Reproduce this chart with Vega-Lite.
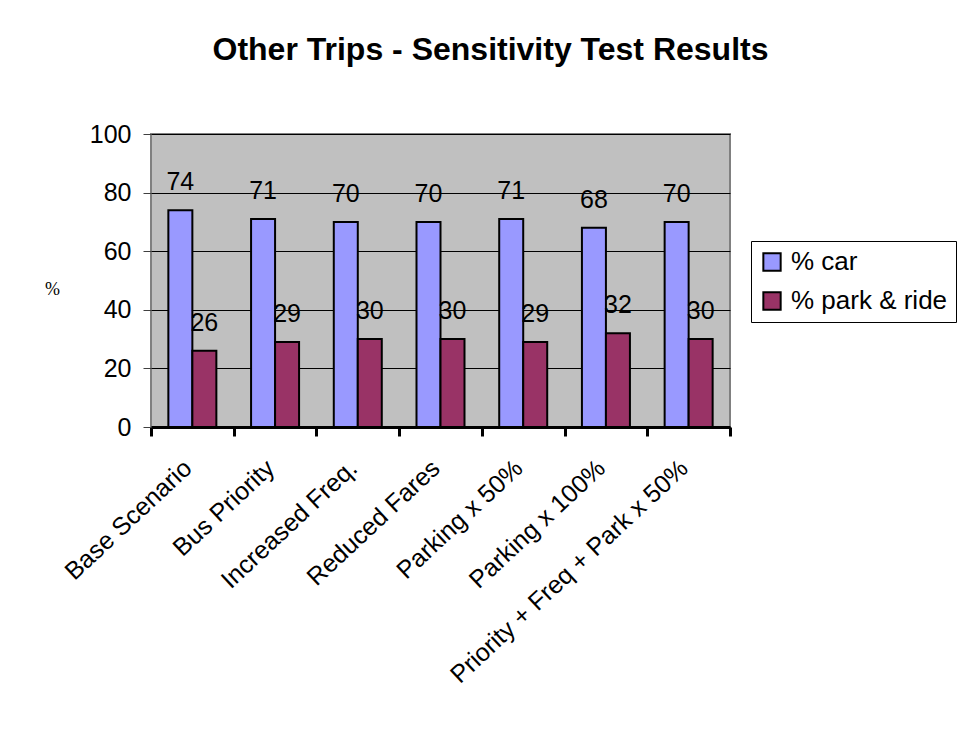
{
  "$schema": "https://vega.github.io/schema/vega-lite/v6.json",
  "autosize": {"type": "none"},
  "width": 579,
  "height": 293,
  "padding": {"left": 151, "top": 134, "right": 228, "bottom": 311},
  "background": "white",
  "title": {
    "text": "Other Trips - Sensitivity Test Results",
    "font": "Liberation Sans",
    "fontSize": 32,
    "fontWeight": "bold",
    "color": "black",
    "anchor": "middle",
    "dx": 50,
    "offset": 55
  },
  "data": {
    "values": [
      {"scenario": "Base Scenario", "mode": "% car", "pct": 74},
      {"scenario": "Base Scenario", "mode": "% park & ride", "pct": 26},
      {"scenario": "Bus Priority", "mode": "% car", "pct": 71},
      {"scenario": "Bus Priority", "mode": "% park & ride", "pct": 29},
      {"scenario": "Increased Freq.", "mode": "% car", "pct": 70},
      {"scenario": "Increased Freq.", "mode": "% park & ride", "pct": 30},
      {"scenario": "Reduced Fares", "mode": "% car", "pct": 70},
      {"scenario": "Reduced Fares", "mode": "% park & ride", "pct": 30},
      {"scenario": "Parking x 50%", "mode": "% car", "pct": 71},
      {"scenario": "Parking x 50%", "mode": "% park & ride", "pct": 29},
      {"scenario": "Parking x 100%", "mode": "% car", "pct": 68},
      {"scenario": "Parking x 100%", "mode": "% park & ride", "pct": 32},
      {"scenario": "Priority + Freq + Park x 50%", "mode": "% car", "pct": 70},
      {"scenario": "Priority + Freq + Park x 50%", "mode": "% park & ride", "pct": 30}
    ]
  },
  "encoding": {
    "x": {
      "field": "scenario",
      "type": "nominal",
      "sort": null,
      "scale": {"paddingInner": 0, "paddingOuter": 0},
      "axis": {
        "title": null,
        "labelAngle": -43,
        "labelAlign": "right",
        "labelBaseline": "middle",
        "labelFont": "Liberation Sans",
        "labelFontSize": 25,
        "labelColor": "black",
        "labelPadding": 28,
        "labelOffset": -5,
        "labelLimit": 0,
        "labelOverlap": false,
        "tickBand": "extent",
        "ticks": true,
        "tickColor": "black",
        "tickWidth": 3,
        "tickSize": 9,
        "domainColor": "black",
        "domainWidth": 3,
        "grid": false
      }
    },
    "xOffset": {
      "field": "mode",
      "type": "nominal",
      "sort": null,
      "scale": {"paddingInner": 0, "paddingOuter": 0.723}
    },
    "y": {
      "field": "pct",
      "type": "quantitative",
      "scale": {"domain": [0, 100]},
      "axis": {
        "values": [0, 20, 40, 60, 80, 100],
        "title": "%",
        "titleAngle": 0,
        "titleFont": "Liberation Serif",
        "titleFontSize": 18,
        "titleFontWeight": "normal",
        "titleColor": "black",
        "titleX": -99,
        "titleY": 155,
        "titleAlign": "center",
        "titleBaseline": "middle",
        "labelFont": "Liberation Sans",
        "labelFontSize": 25,
        "labelColor": "black",
        "labelPadding": 12,
        "tickColor": "#404040",
        "tickWidth": 1,
        "tickSize": 8,
        "domain": false,
        "grid": true,
        "gridColor": "black",
        "gridWidth": 1
      }
    }
  },
  "layer": [
    {
      "mark": {"type": "bar", "stroke": "black", "strokeWidth": 2},
      "encoding": {
        "color": {
          "field": "mode",
          "type": "nominal",
          "sort": null,
          "scale": {"domain": ["% car", "% park & ride"], "range": ["#9999FF", "#993366"]},
          "legend": {
            "title": null,
            "orient": "none",
            "legendX": 600,
            "legendY": 107,
            "strokeColor": "black",
            "padding": 8,
            "symbolType": "square",
            "symbolSize": 300,
            "symbolStrokeColor": "black",
            "symbolStrokeWidth": 2,
            "labelFont": "Liberation Sans",
            "labelFontSize": 26,
            "labelColor": "black",
            "labelOffset": 6,
            "rowPadding": 13
          }
        }
      }
    },
    {
      "mark": {
        "type": "text",
        "font": "Liberation Sans",
        "fontSize": 25,
        "color": "black",
        "baseline": "alphabetic",
        "dy": -20
      },
      "encoding": {"text": {"field": "pct", "type": "quantitative"}}
    }
  ],
  "config": {
    "view": {"stroke": "#808080", "strokeWidth": 2, "fill": "#C0C0C0"}
  }
}
